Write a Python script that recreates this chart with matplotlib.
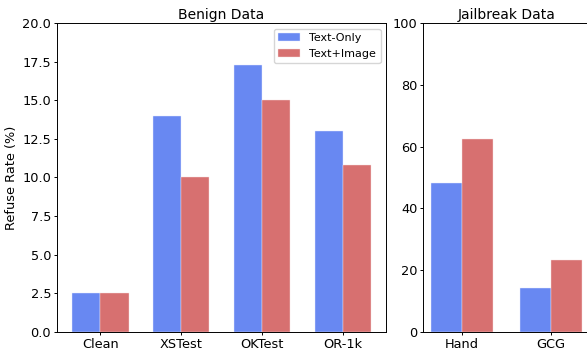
import matplotlib
matplotlib.use("Agg")
import matplotlib.pyplot as plt
import numpy as np

benign_cats = ["Clean", "XSTest", "OKTest", "OR-1k"]
benign_text_only = [2.5, 14.0, 17.3, 13.0]
benign_text_image = [2.5, 10.0, 15.0, 10.8]

jail_cats = ["Hand", "GCG"]
jail_text_only = [48.1, 14.3]
jail_text_image = [62.6, 23.4]

series_labels = ["Text-Only", "Text+Image"]
blue = "#6888F2"
red = "#D77070"
w = 0.35

plt.rcParams['font.size'] = 9.3
plt.rcParams['xtick.major.size'] = 2.4
plt.rcParams['ytick.major.size'] = 2.4
plt.rcParams['xtick.major.pad'] = 1.8
plt.rcParams['ytick.major.pad'] = 1.8
plt.rcParams['axes.linewidth'] = 0.7
plt.rcParams['xtick.major.width'] = 0.7
plt.rcParams['ytick.major.width'] = 0.7

fig = plt.figure(figsize=(5.87, 3.5), dpi=100)
ax1 = fig.add_axes([0.097, 0.0514, 0.561, 0.883])
ax2 = fig.add_axes([0.721, 0.0514, 0.283, 0.883])

x1 = np.arange(len(benign_cats))
ax1.bar(x1 - w/2, benign_text_only, w, color=blue, edgecolor="#e6ebff", linewidth=0.3, label=series_labels[0])
ax1.bar(x1 + w/2, benign_text_image, w, color=red, edgecolor="#f7e2e2", linewidth=0.3, label=series_labels[1])
ax1.set_xticks(x1)
ax1.set_xticklabels(benign_cats)
ax1.set_ylim(0, 20)
ax1.set_ylabel("Refuse Rate (%)", labelpad=3)
ax1.set_title("Benign Data", fontsize=10, pad=2.5)
ax1.legend(loc="upper right", fontsize=8)

x2 = np.arange(len(jail_cats))
ax2.bar(x2 - w/2, jail_text_only, w, color=blue, edgecolor="#e6ebff", linewidth=0.3)
ax2.bar(x2 + w/2, jail_text_image, w, color=red, edgecolor="#f7e2e2", linewidth=0.3)
ax2.set_xticks(x2)
ax2.set_xticklabels(jail_cats)
ax2.set_ylim(0, 100)
ax2.set_title("Jailbreak Data", fontsize=10, pad=2.5)

fig.savefig("out.png", dpi=100)
